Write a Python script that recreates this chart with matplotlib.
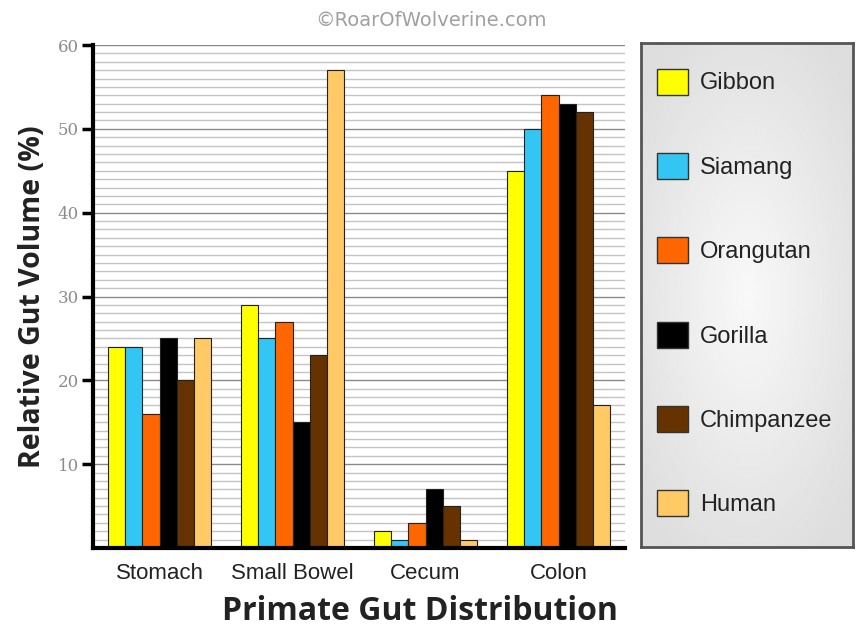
import numpy as np
import matplotlib
matplotlib.use("Agg")
import matplotlib.pyplot as plt
from matplotlib.patches import Patch

# data
categories = ["Stomach", "Small Bowel", "Cecum", "Colon"]
species = ["Gibbon", "Siamang", "Orangutan", "Gorilla", "Chimpanzee", "Human"]
gibbon = [24, 29, 2, 45]
siamang = [24, 25, 1, 50]
orangutan = [16, 27, 3, 54]
gorilla = [25, 15, 7, 53]
chimpanzee = [20, 23, 5, 52]
human = [25, 57, 1, 17]
yticks = [10, 20, 30, 40, 50, 60]

series = [gibbon, siamang, orangutan, gorilla, chimpanzee, human]
colors = ["#ffff00", "#33c6f4", "#ff6600", "#000000", "#663300", "#ffc966"]

fig = plt.figure(figsize=(8.56, 6.3), dpi=100)
fig.patch.set_facecolor("white")

ax = fig.add_axes([93 / 856, 1 - 548 / 630, 532 / 856, 503 / 630])

# grid: thin lines each unit, darker every 10
for v in range(1, 61):
    c = "#8a8a8a" if v % 10 == 0 else "#c4c4c4"
    ax.axhline(v, color=c, lw=1.0, zorder=0)

x = np.arange(len(categories))
w = 0.128
for i, (vals, col) in enumerate(zip(series, colors)):
    ax.bar(x + (i - 2.5) * w, vals, width=w, color=col, edgecolor="#222222",
           linewidth=0.8, zorder=2)

ax.set_xlim(-0.5, 3.5)
ax.set_ylim(0, 60)
ax.set_yticks(yticks)
ax.set_yticklabels([str(t) for t in yticks], fontfamily="DejaVu Serif",
                   color="#8c8c8c", fontsize=12)
ax.tick_params(axis="y", length=8, width=2.5, color="black", pad=2)
ax.set_xticks(x)
ax.set_xticklabels(categories, fontfamily="Liberation Sans", fontsize=16,
                   color="#222222")
ax.tick_params(axis="x", length=0, pad=11)
for s in ["top", "right"]:
    ax.spines[s].set_visible(False)
ax.spines["left"].set_linewidth(3)
ax.spines["bottom"].set_linewidth(3)

ax.set_ylabel("Relative Gut Volume (%)", fontfamily="Open Sans",
              fontweight="bold", fontsize=20.5, color="#222222", labelpad=8)

fig.text(420 / 856, 1 - 611 / 630, "Primate Gut Distribution",
         ha="center", va="center", fontfamily="Open Sans", fontweight="bold",
         fontsize=23, color="#222222")
fig.text(431 / 856, 1 - 20 / 630, "\u00a9RoarOfWolverine.com", ha="center",
         va="center", fontfamily="DejaVu Sans", fontsize=14, color="#a0a0a0")

# legend box with soft radial gradient
lax = fig.add_axes([641 / 856, 1 - 547 / 630, 212 / 856, 504 / 630])
yy, xx = np.mgrid[-1:1:300j, -1:1:200j]
r = np.sqrt((xx / 1.0) ** 2 + (yy / 0.9) ** 2)
grad = np.clip(0.975 - 0.08 * r, 0.87, 0.975)
lax.imshow(grad, cmap="gray", vmin=0, vmax=1, aspect="auto",
           extent=[0, 1, 0, 1], interpolation="bilinear")
lax.set_xticks([])
lax.set_yticks([])
for s in lax.spines.values():
    s.set_color("#555555")
    s.set_linewidth(2)

handles = [Patch(facecolor=c, edgecolor="#333333", linewidth=1) for c in colors]
leg = lax.legend(handles, species, loc="center left", bbox_to_anchor=(0.075, 0.505),
                 frameon=False, handlelength=1.32, handleheight=1.32,
                 labelspacing=2.47, handletextpad=0.5, borderpad=0,
                 borderaxespad=0, prop={"family": "Liberation Sans", "size": 17})
for t in leg.get_texts():
    t.set_color("#222222")

fig.savefig("out.png", dpi=100)
